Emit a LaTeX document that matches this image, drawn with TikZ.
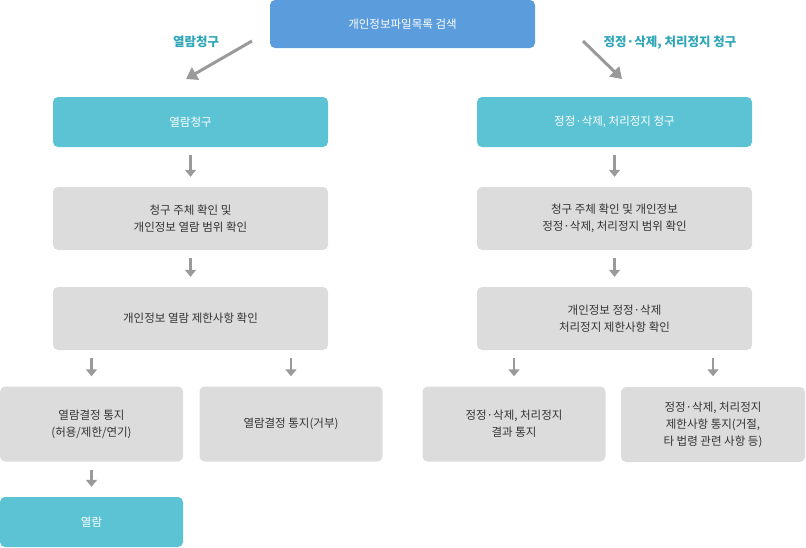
\documentclass[tikz,border=0pt]{standalone}
\usepackage{fontspec}
\setmainfont{Noto Sans CJK KR}
\usetikzlibrary{arrows.meta, positioning}
\definecolor{topblue}{HTML}{5A9CDC}
\definecolor{tealbox}{HTML}{5BC3D3}
\definecolor{tealtext}{HTML}{2FA5B8}
\definecolor{graybox}{HTML}{DCDCDC}
\definecolor{arrowgray}{HTML}{9A9A9A}
\tikzset{
	box/.style = {rounded corners = 5pt, align = center, font = \fontsize{11.5}{17}\selectfont, inner sep = 0pt},
	topbox/.style = {box, fill = topblue, text = white, minimum width = 265pt, minimum height = 48pt},
	headbox/.style = {box, fill = tealbox, text = white, minimum width = 275pt, minimum height = 50pt},
	stepbox/.style = {box, fill = graybox, text = black!80, minimum width = 275pt, minimum height = 63pt},
	leafbox/.style = {box, fill = graybox, text = black!80, minimum width = 183pt, minimum height = 75pt},
	down/.style = {arrowgray, line width = 2.5pt, -{Triangle[length = 7pt, width = 11pt]}, shorten < = 8pt, shorten > = 10pt},
	diag/.style = {arrowgray, line width = 3pt, -{Triangle[length = 11pt, width = 14pt]}},
	side/.style = {text = tealtext, font = \fontsize{12.5}{15}\selectfont\bfseries}
}
\begin{document}
\begin{tikzpicture}[x = 1pt, y = -1pt]
\useasboundingbox (0, 0) rectangle (806, 547);

% Search box

\node [topbox] (search) at (402.5, 24) {개인정보파일목록 검색};

% Left branch

\node [headbox] (viewreq) at (190.5, 122) {열람청구};
\node [stepbox] (viewcheck) at (190.5, 218.5) {청구 주체 확인 및\\개인정보 열람 범위 확인};
\node [stepbox] (viewlimit) at (190.5, 318.5) {개인정보 열람 제한사항 확인};
\node [leafbox] (viewok) at (91.5, 424) {열람결정 통지\\(허용/제한/연기)};
\node [leafbox] (viewno) at (291, 424) {열람결정 통지(거부)};
\node [headbox, minimum width = 183pt] (view) at (91.5, 522) {열람};

% Right branch

\node [headbox] (fixreq) at (614.5, 122) {정정·삭제, 처리정지 청구};
\node [stepbox] (fixcheck) at (614.5, 218.5) {청구 주체 확인 및 개인정보\\정정·삭제, 처리정지 범위 확인};
\node [stepbox] (fixlimit) at (614.5, 318.5) {개인정보 정정·삭제\\처리정지 제한사항 확인};
\node [leafbox] (fixok) at (514, 424) {정정·삭제, 처리정지\\결과 통지};
\node [leafbox, minimum width = 184pt] (fixno) at (713, 424.5) {정정·삭제, 처리정지\\제한사항 통지(거절,\\타 법령 관련 사항 등)};

% Branch arrows

\coordinate (lstart) at (252, 41);
\coordinate (lend) at (186, 79);
\coordinate (rstart) at (583, 41);
\coordinate (rend) at (622, 79);
\draw [diag] (lstart) -- (lend);
\draw [diag] (rstart) -- (rend);
\node [side] (lside) at (196, 42) {열람청구};
\node [side] (rside) at (670, 43) {정정·삭제, 처리정지 청구};

% Step arrows

\draw [down] (viewreq) -- (viewcheck);
\draw [down] (viewcheck) -- (viewlimit);
\draw [down] (viewlimit.south -| viewok) -- (viewok);
\draw [down] (viewlimit.south -| viewno) -- (viewno);
\draw [down] (viewok) -- (view);
\draw [down] (fixreq) -- (fixcheck);
\draw [down] (fixcheck) -- (fixlimit);
\draw [down] (fixlimit.south -| fixok) -- (fixok);
\draw [down] (fixlimit.south -| fixno) -- (fixno.north |- fixok.north);

\end{tikzpicture}
\end{document}
